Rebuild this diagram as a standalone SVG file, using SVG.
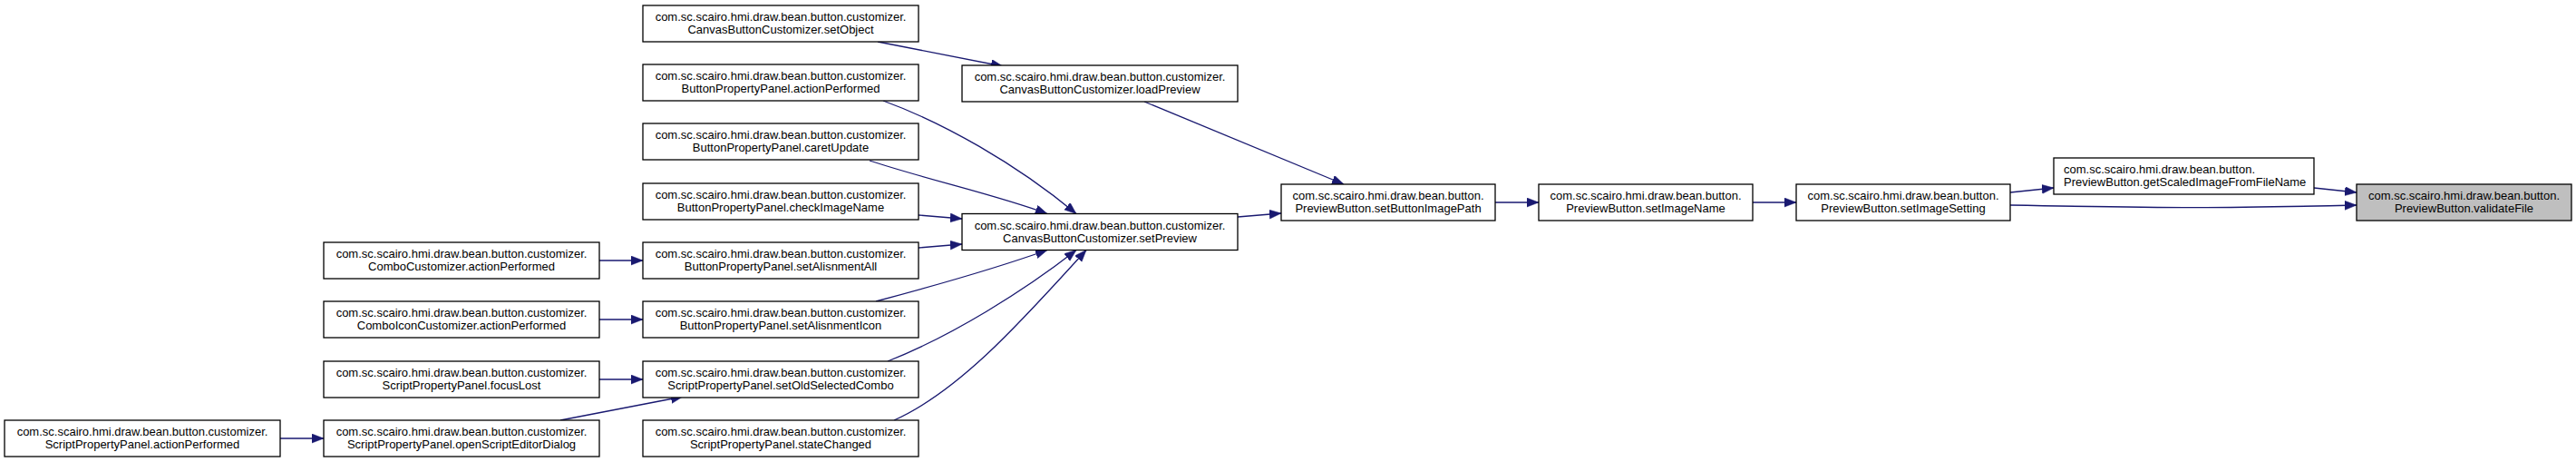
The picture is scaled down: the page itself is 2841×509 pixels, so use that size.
<svg xmlns="http://www.w3.org/2000/svg" width="2841" height="509" viewBox="0 0 2841 509">
<style>
.node rect{fill:#ffffff;stroke:#000000;stroke-width:1.3}
.node.hl rect{fill:#bfbfbf}
.node text{font-family:"Liberation Sans",Arial,Helvetica,sans-serif;font-size:13px;fill:#000000;text-anchor:middle}
.node text.l{text-anchor:start}
#edges path{fill:none;stroke:#191970;stroke-width:1.3;marker-end:url(#arr)}
</style>
<defs>
<marker id="arr" markerUnits="userSpaceOnUse" markerWidth="14" markerHeight="11" refX="13" refY="5" orient="auto">
<path d="M0,0 L13,5 L0,10 Z" fill="#191970" stroke="#191970" stroke-width="0.5"/>
</marker>
</defs>
<rect width="2841" height="509" fill="#ffffff"/>
<g id="edges">
<path d="M309,483 L357,483"/>
<path d="M661,287 L709,287"/>
<path d="M661,352 L709,352"/>
<path d="M661,418 L709,418"/>
<path d="M618,463 L753,437"/>
<path d="M968,46 L1106,73"/>
<path d="M974,111 C1040,135 1120,180 1187,235.5"/>
<path d="M959,177 C1030,200 1100,215 1155,235.5"/>
<path d="M1013,237 L1061,241"/>
<path d="M1013,273 L1061,269"/>
<path d="M966,332 C1030,315 1100,295 1155,275.5"/>
<path d="M979,398 C1050,370 1130,320 1187,275.5"/>
<path d="M986,463 C1060,430 1130,350 1198,275.5"/>
<path d="M1262,112 L1482,203"/>
<path d="M1365,239 L1413,235"/>
<path d="M1649,223 L1697,223"/>
<path d="M1933,223 L1981,223"/>
<path d="M2217,212 L2265,207"/>
<path d="M2217,226 C2400,229.5 2450,229.5 2599,226"/>
<path d="M2552,207 L2599,212"/>
</g>
<g id="n_spp_actionPerformed" class="node"><rect x="5" y="463" width="304" height="40"/><text x="157" y="480">com.sc.scairo.hmi.draw.bean.button.customizer.</text><text x="157" y="494">ScriptPropertyPanel.actionPerformed</text></g>
<g id="n_combo_actionPerformed" class="node"><rect x="357" y="267" width="304" height="40"/><text x="509" y="284">com.sc.scairo.hmi.draw.bean.button.customizer.</text><text x="509" y="298">ComboCustomizer.actionPerformed</text></g>
<g id="n_comboicon_actionPerformed" class="node"><rect x="357" y="332" width="304" height="40"/><text x="509" y="349">com.sc.scairo.hmi.draw.bean.button.customizer.</text><text x="509" y="363">ComboIconCustomizer.actionPerformed</text></g>
<g id="n_spp_focusLost" class="node"><rect x="357" y="398" width="304" height="40"/><text x="509" y="415">com.sc.scairo.hmi.draw.bean.button.customizer.</text><text x="509" y="429">ScriptPropertyPanel.focusLost</text></g>
<g id="n_spp_openScriptEditorDialog" class="node"><rect x="357" y="463" width="304" height="40"/><text x="509" y="480">com.sc.scairo.hmi.draw.bean.button.customizer.</text><text x="509" y="494">ScriptPropertyPanel.openScriptEditorDialog</text></g>
<g id="n_cbc_setObject" class="node"><rect x="709" y="6" width="304" height="40"/><text x="861" y="23">com.sc.scairo.hmi.draw.bean.button.customizer.</text><text x="861" y="37">CanvasButtonCustomizer.setObject</text></g>
<g id="n_bpp_actionPerformed" class="node"><rect x="709" y="71" width="304" height="40"/><text x="861" y="88">com.sc.scairo.hmi.draw.bean.button.customizer.</text><text x="861" y="102">ButtonPropertyPanel.actionPerformed</text></g>
<g id="n_bpp_caretUpdate" class="node"><rect x="709" y="136" width="304" height="40"/><text x="861" y="153">com.sc.scairo.hmi.draw.bean.button.customizer.</text><text x="861" y="167">ButtonPropertyPanel.caretUpdate</text></g>
<g id="n_bpp_checkImageName" class="node"><rect x="709" y="202" width="304" height="40"/><text x="861" y="219">com.sc.scairo.hmi.draw.bean.button.customizer.</text><text x="861" y="233">ButtonPropertyPanel.checkImageName</text></g>
<g id="n_bpp_setAlisnmentAll" class="node"><rect x="709" y="267" width="304" height="40"/><text x="861" y="284">com.sc.scairo.hmi.draw.bean.button.customizer.</text><text x="861" y="298">ButtonPropertyPanel.setAlisnmentAll</text></g>
<g id="n_bpp_setAlisnmentIcon" class="node"><rect x="709" y="332" width="304" height="40"/><text x="861" y="349">com.sc.scairo.hmi.draw.bean.button.customizer.</text><text x="861" y="363">ButtonPropertyPanel.setAlisnmentIcon</text></g>
<g id="n_spp_setOldSelectedCombo" class="node"><rect x="709" y="398" width="304" height="40"/><text x="861" y="415">com.sc.scairo.hmi.draw.bean.button.customizer.</text><text x="861" y="429">ScriptPropertyPanel.setOldSelectedCombo</text></g>
<g id="n_spp_stateChanged" class="node"><rect x="709" y="463" width="304" height="40"/><text x="861" y="480">com.sc.scairo.hmi.draw.bean.button.customizer.</text><text x="861" y="494">ScriptPropertyPanel.stateChanged</text></g>
<g id="n_cbc_loadPreview" class="node"><rect x="1061" y="72" width="304" height="40"/><text x="1213" y="89">com.sc.scairo.hmi.draw.bean.button.customizer.</text><text x="1213" y="103">CanvasButtonCustomizer.loadPreview</text></g>
<g id="n_cbc_setPreview" class="node"><rect x="1061" y="235.5" width="304" height="40"/><text x="1213" y="252.5">com.sc.scairo.hmi.draw.bean.button.customizer.</text><text x="1213" y="266.5">CanvasButtonCustomizer.setPreview</text></g>
<g id="n_pb_setButtonImagePath" class="node"><rect x="1413" y="203" width="236" height="40"/><text x="1531" y="220">com.sc.scairo.hmi.draw.bean.button.</text><text x="1531" y="234">PreviewButton.setButtonImagePath</text></g>
<g id="n_pb_setImageName" class="node"><rect x="1697" y="203" width="236" height="40"/><text x="1815" y="220">com.sc.scairo.hmi.draw.bean.button.</text><text x="1815" y="234">PreviewButton.setImageName</text></g>
<g id="n_pb_setImageSetting" class="node"><rect x="1981" y="203" width="236" height="40"/><text x="2099" y="220">com.sc.scairo.hmi.draw.bean.button.</text><text x="2099" y="234">PreviewButton.setImageSetting</text></g>
<g id="n_pb_getScaledImageFromFileName" class="node"><rect x="2265" y="174" width="287" height="40"/><text class="l" x="2276" y="191">com.sc.scairo.hmi.draw.bean.button.</text><text class="l" x="2276" y="205">PreviewButton.getScaledImageFromFileName</text></g>
<g id="n_pb_validateFile" class="node hl"><rect x="2599" y="203" width="237" height="40"/><text x="2717.5" y="220">com.sc.scairo.hmi.draw.bean.button.</text><text x="2717.5" y="234">PreviewButton.validateFile</text></g>
</svg>
